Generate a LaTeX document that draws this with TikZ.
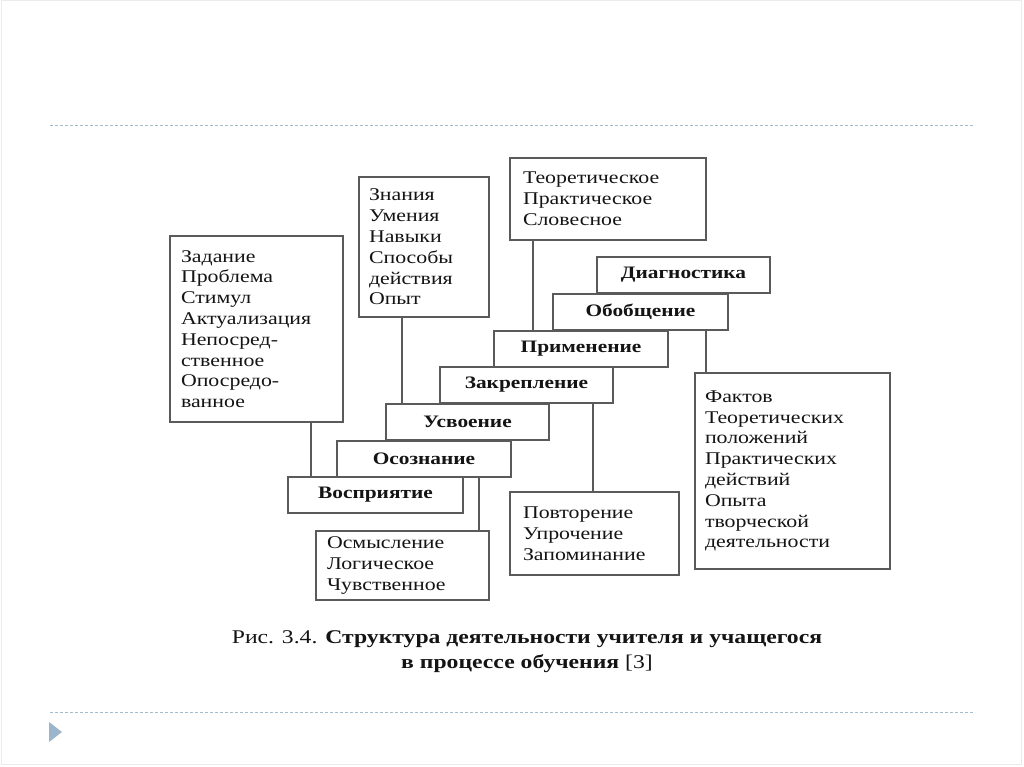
\documentclass[tikz,border=0pt]{standalone}
\usepackage{fontspec}
\setmainfont[FakeStretch=1.22]{Liberation Serif}
\definecolor{boxgray}{RGB}{90,90,90}
\definecolor{txt}{RGB}{20,20,20}
\definecolor{dashc}{RGB}{165,188,205}
\definecolor{trif}{RGB}{155,181,203}
\begin{document}
\begin{tikzpicture}[x=1pt,y=-1pt,
  box/.style={draw=boxgray,line width=1.4pt,fill=white,inner sep=0pt,outer sep=0pt,
    font=\fontsize{17.9}{20.8}\selectfont,text=txt},
  stage/.style={box,font=\fontsize{17.5}{20.8}\selectfont\bfseries,minimum height=36pt},
  list/.style={box,align=left,inner xsep=11pt},
  link/.style={draw=boxgray,line width=1.4pt},
  sep/.style={draw=dashc,line width=1pt,dash pattern=on 3pt off 2pt}]
\useasboundingbox (0,0) rectangle (1024,767);
\fill[white] (0,0) rectangle (1024,767);
\draw[black!8,line width=1pt] (1,1) rectangle (1021,764);
% separators
\coordinate (s1a) at (50,126); \coordinate (s1b) at (975,126);
\coordinate (s2a) at (50,712); \coordinate (s2b) at (975,712);
\draw[sep] (s1a) -- (s1b);
\draw[sep] (s2a) -- (s2b);
\coordinate (t1) at (49,722); \coordinate (t2) at (62,732); \coordinate (t3) at (49,742);
\fill[trif] (t1) -- (t2) -- (t3) -- cycle;
% stage boxes
\node[stage,minimum width=175pt] (vos) at (375.5,495) {Восприятие};
\node[stage,minimum width=174pt] (oso) at (424,459) {Осознание};
\node[stage,minimum width=163pt] (usv) at (467.5,422) {Усвоение};
\node[stage,minimum width=173pt] (zak) at (526.5,385) {Закрепление};
\node[stage,minimum width=174pt] (pri) at (581,349) {Применение};
\node[stage,minimum width=175pt] (obo) at (640.5,312) {Обобщение};
\node[stage,minimum width=173pt] (dia) at (683.5,275) {Диагностика};
% list boxes
\node[list,text width=151pt,minimum height=186pt] (lb) at (256.5,329)
  {Задание\\Проблема\\Стимул\\Актуализация\\Непосред-\\ственное\\Опосредо-\\ванное};
\node[list,text width=110pt,inner xsep=10pt,minimum height=140pt] (zn) at (424,247)
  {Знания\\Умения\\Навыки\\Способы\\действия\\Опыт};
\node[list,text width=170pt,inner xsep=13pt,minimum height=82pt] (te) at (608,199)
  {Теоретическое\\Практическое\\Словесное};
\node[list,text width=175pt,inner xsep=10pt,minimum height=196pt] (fa) at (792.5,471)
  {Фактов\\Теоретических\\положений\\Практических\\действий\\Опыта\\творческой\\деятельности};
\node[list,text width=143pt,inner xsep=13pt,minimum height=83pt] (po) at (594.5,533.5)
  {Повторение\\Упрочение\\Запоминание};
\node[list,text width=151pt,minimum height=69pt] (os) at (402.5,565.5)
  {Осмысление\\Логическое\\Чувственное};
% connectors
\coordinate (x1) at (311,0);
\coordinate (x2) at (402,0);
\coordinate (x3) at (533,0);
\coordinate (x4) at (706,0);
\coordinate (x5) at (593,0);
\coordinate (x6) at (479,0);
\draw[link] (x1 |- lb.south) -- (x1 |- vos.north);
\draw[link] (x2 |- zn.south) -- (x2 |- usv.north);
\draw[link] (x3 |- te.south) -- (x3 |- pri.north);
\draw[link] (x4 |- obo.south) -- (x4 |- fa.north);
\draw[link] (x5 |- zak.south) -- (x5 |- po.north);
\draw[link] (x6 |- oso.south) -- (x6 |- os.north);
% caption
\node[font=\fontsize{19.4}{25}\selectfont,align=center,text=txt] (cap) at (527,652)
  {Рис. 3.4. \textbf{Структура деятельности учителя и учащегося}\\\textbf{в процессе обучения} [3]};
\end{tikzpicture}
\end{document}
